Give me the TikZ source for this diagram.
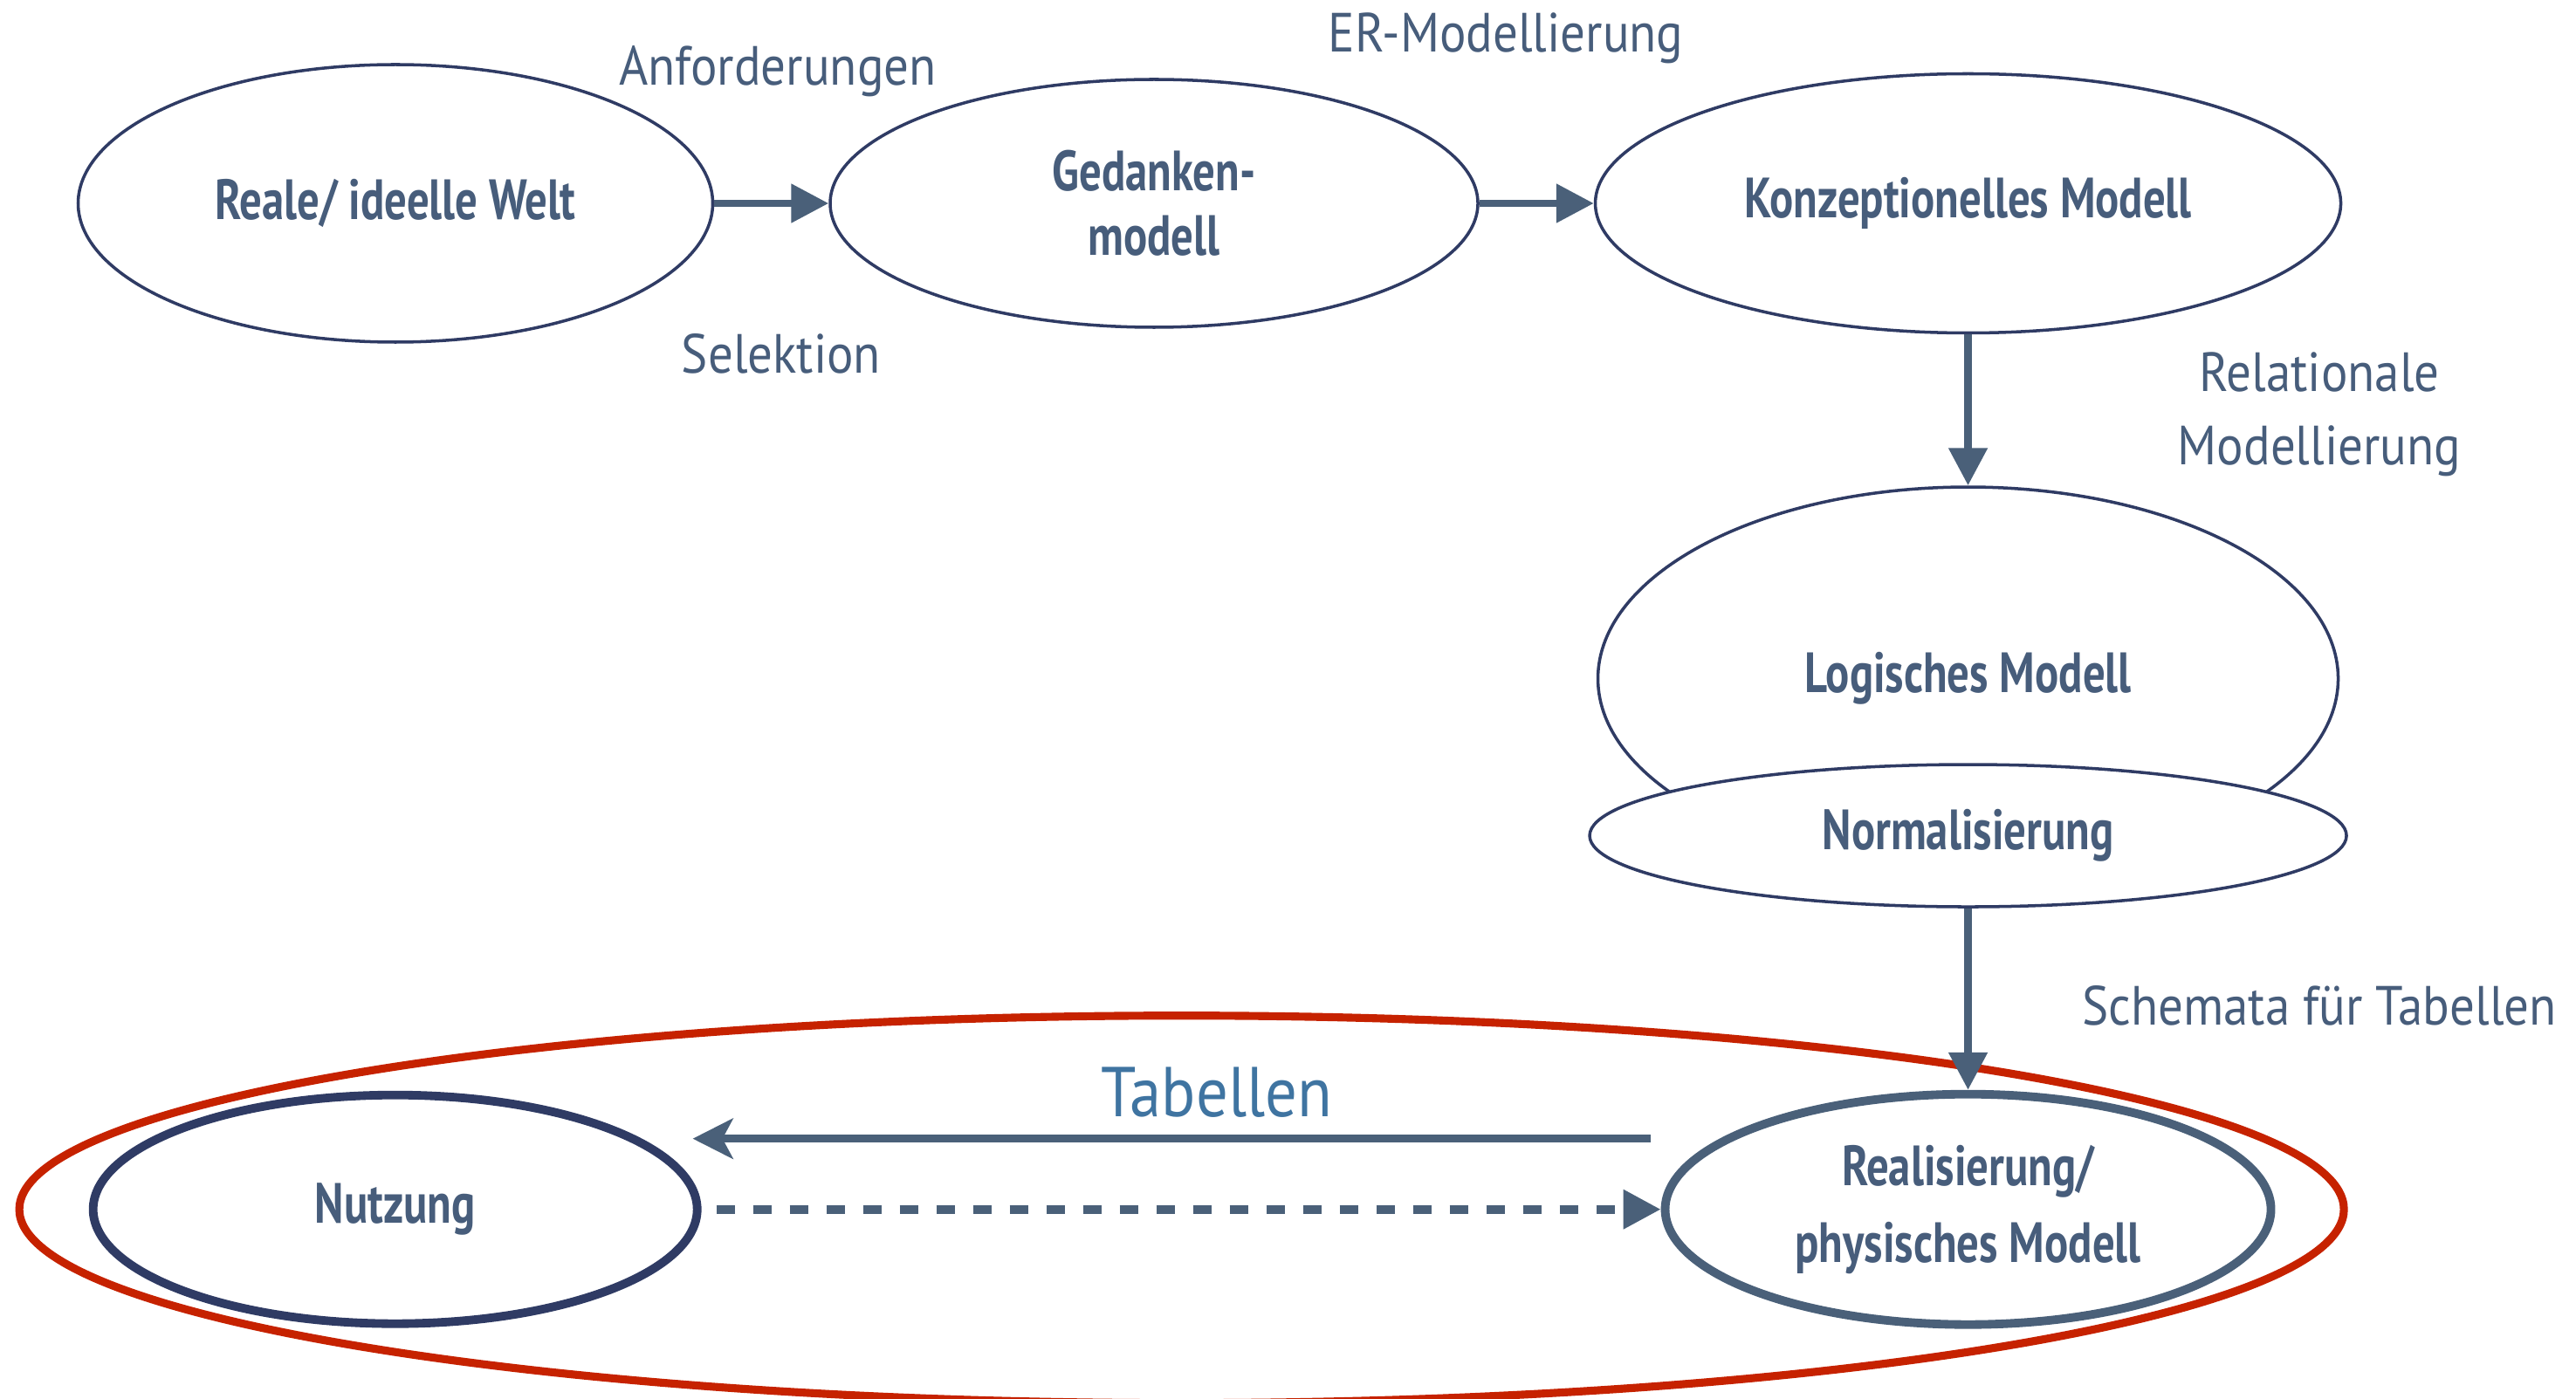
\documentclass[tikz,border=0pt]{standalone}
\usepackage{fontspec}
\setmainfont{PT Sans}[FakeStretch=0.9]
\newfontfamily\schmal{PT Sans}[FakeStretch=0.78]
\usetikzlibrary{positioning,calc,shapes.geometric,arrows.meta}

\definecolor{textblau}{HTML}{475D7B}
\definecolor{randblau}{HTML}{2F3B64}
\definecolor{pfeilblau}{HTML}{4A6079}
\definecolor{hellblau}{HTML}{3F74A1}
\definecolor{rahmenrot}{HTML}{C62200}

\tikzset{
  modell/.style={ellipse, draw=randblau, line width=1pt, text=textblau,
    font=\schmal\bfseries\fontsize{18.5}{21}\selectfont, align=center, inner sep=0pt},
  dickmodell/.style={modell, line width=2.8pt},
  beschriftung/.style={text=textblau, font=\fontsize{18}{24}\selectfont, align=center},
  pfeil/.style={draw=pfeilblau, line width=2.4pt,
    -{Triangle[length=4.3mm,width=4.3mm]}},
}

\begin{document}
\begin{tikzpicture}
  \useasboundingbox (0,0) rectangle (29.51,-16.03);

  % obere Reihe
  \node[modell, minimum width=7.27cm, minimum height=3.18cm] (reale) at (4.53,-2.33) {Reale/ ideelle Welt};
  \node[modell, minimum width=7.42cm, minimum height=2.84cm, right=1.31cm of reale] (gedanken) {Gedanken-\\modell};
  \node[modell, minimum width=8.54cm, minimum height=2.97cm, right=1.31cm of gedanken] (konzept) {Konzeptionelles Modell};

  % rechte Spalte
  \node[modell, minimum width=8.48cm, minimum height=4.39cm, below=1.73cm of konzept] (logisch) {Logisches Modell};
  \node[modell, fill=white, minimum width=8.67cm, minimum height=1.63cm] (normal) at ([yshift=-1.80cm]logisch.center) {Normalisierung};
  \node[dickmodell, draw=pfeilblau, minimum width=6.94cm, minimum height=2.64cm, below=2.08cm of normal] (realis) {Realisierung/\\[4pt]physisches Modell};

  % untere Reihe
  \node[dickmodell, minimum width=6.92cm, minimum height=2.62cm, left=10.99cm of realis] (nutzung) {Nutzung};
  \node[ellipse, draw=rahmenrot, line width=2.6pt, minimum width=26.63cm, minimum height=4.44cm] (gruppe) at ($(nutzung.center)!0.5!(realis.center)$) {};

  % Pfeile
  \draw[pfeil] (reale.east) -- (gedanken.west);
  \draw[pfeil] (gedanken.east) -- (konzept.west);
  \draw[pfeil] (konzept.south) -- (logisch.north);
  \draw[pfeil] (normal.south) -- (realis.north);
  \coordinate (tabstart) at ([xshift=-0.12cm,yshift=0.81cm]realis.west);
  \coordinate (tabende) at ([xshift=-0.10cm,yshift=0.81cm]nutzung.east);
  \draw[draw=pfeilblau, line width=2.4pt, -{Stealth[length=4.6mm,width=4.6mm,inset=1.2mm]}] (tabstart) -- (tabende);
  \draw[pfeil, dash pattern=on 0.21cm off 0.21cm, line width=2.8pt, shorten <=0.17cm] (nutzung.east) -- (realis.west);

  % Beschriftungen
  \node[beschriftung] (anf) at (8.91,-0.82) {Anforderungen};
  \node[beschriftung] (sel) at (8.95,-4.05) {Selektion};
  \node[beschriftung] (er) at (17.25,-0.44) {ER-Modellierung};
  \node[beschriftung] (rel) at (26.57,-4.75) {Relationale\\Modellierung};
  \node[beschriftung] (schema) at (26.57,-11.52) {Schemata für Tabellen};
  \node[beschriftung, text=hellblau, font=\fontsize{23}{27}\selectfont] (tab) at (13.94,-12.52) {Tabellen};
\end{tikzpicture}
\end{document}
